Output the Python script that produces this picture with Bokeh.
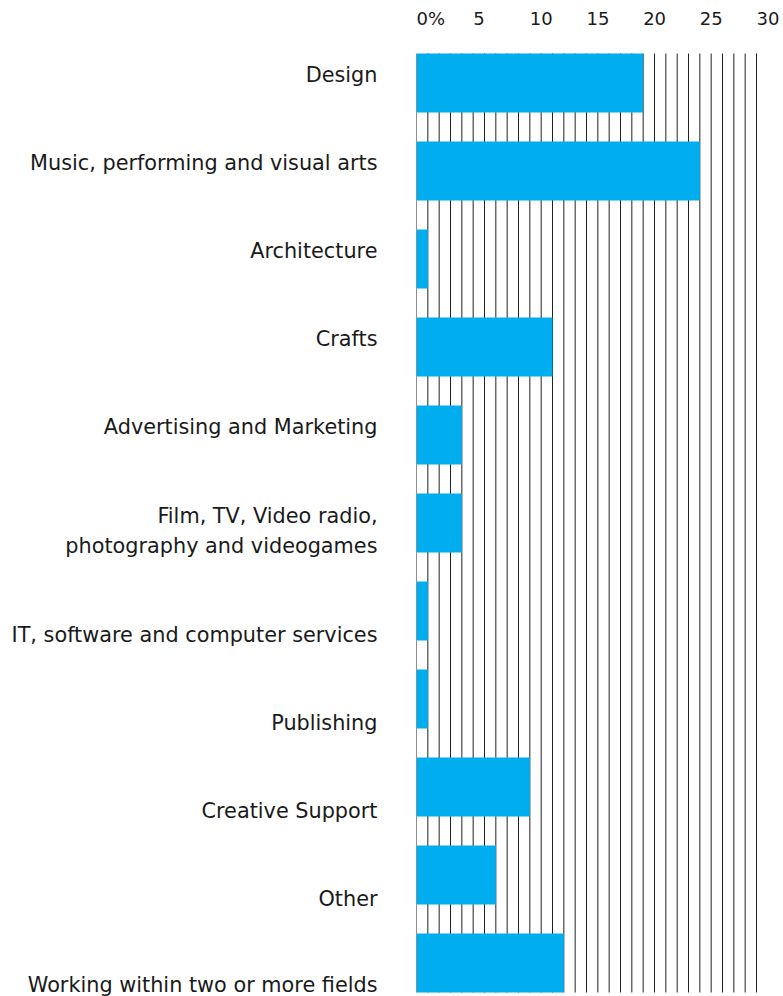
from bokeh.plotting import figure
from bokeh.models import Range1d, FixedTicker, LinearAxis
from bokeh.core.properties import value
from bokeh.embed import file_html
from bokeh.resources import INLINE

categories = [
    "Design",
    "Music, performing and visual arts",
    "Architecture",
    "Crafts",
    "Advertising and Marketing",
    "Film, TV, Video radio,\nphotography and videogames",
    "IT, software and computer services",
    "Publishing",
    "Creative Support",
    "Other",
    "Working within two or more fields",
]
values = [20, 25, 1, 12, 4, 4, 1, 1, 10, 7, 13]
x_ticks = [0, 5, 10, 15, 20, 25, 30]
x_tick_labels = ["0%", "5", "10", "15", "20", "25", "30"]
grid_values = list(range(0, 31))

FONT = "DejaVu Sans"
TEXT = "#1a1a1a"
BAR = "#00AEEF"

n = len(categories)
bar_h = 0.67
ys = list(range(n))

W, H = 783, 996
left = 416
px_per_unit = 88.0          # vertical pixels per category
top_px = 53.0               # space above first bar for the tick labels
px_per_x = 340.0 / 30.0     # horizontal pixels per percentage point
frame_w = W - left
y_top = -bar_h / 2 - top_px / px_per_unit
y_bottom = n - 1 + bar_h / 2 + 4 / px_per_unit

p = figure(
    width=W, height=H,
    x_range=Range1d(0, frame_w / px_per_x),
    y_range=Range1d(y_bottom, y_top),
    output_backend="svg", toolbar_location=None,
    x_axis_location=None, y_axis_location=None,
    min_border_left=left, min_border_right=0, min_border_top=0, min_border_bottom=0,
)
p.outline_line_color = None
p.background_fill_color = "white"
p.xgrid.grid_line_color = None
p.ygrid.grid_line_color = None

# vertical grid lines every 1 unit, spanning the bars only
p.segment(x0=grid_values, x1=grid_values,
          y0=[-bar_h / 2] * len(grid_values), y1=[n - 1 + bar_h / 2] * len(grid_values),
          line_color="#222222", line_width=1)

p.hbar(y=ys, right=values, left=0, height=bar_h, fill_color=BAR, line_color=None)

# top tick labels, left-aligned at their grid line
label_y = -bar_h / 2 - 35 / px_per_unit
p.text(x=x_ticks, y=[label_y] * len(x_ticks), text=x_tick_labels,
       text_align="left", text_baseline="middle",
       text_font=value(FONT), text_font_size="18px", text_color=TEXT)

# left axis with labels laid out as a text flow (multi-line label pushes the rest down)
line_px = 31.0
tick_pos = []
extra = 0
for i, c in enumerate(categories):
    nl = c.count("\n")
    tick_pos.append(i + (-7.5 + line_px * extra + line_px / 2 * nl) / px_per_unit)
    extra += nl
ya = LinearAxis(ticker=FixedTicker(ticks=tick_pos))
ya.major_label_overrides = {t: c for t, c in zip(tick_pos, categories)}
ya.axis_line_color = None
ya.major_tick_line_color = None
ya.minor_tick_line_color = None
ya.major_label_text_font = FONT
ya.major_label_text_font_size = "20.8px"
ya.major_label_text_color = TEXT
ya.major_label_text_line_height = 1.27
ya.major_label_standoff = 33
p.add_layout(ya, "left")

open("out.html", "w").write(file_html(p, INLINE))
